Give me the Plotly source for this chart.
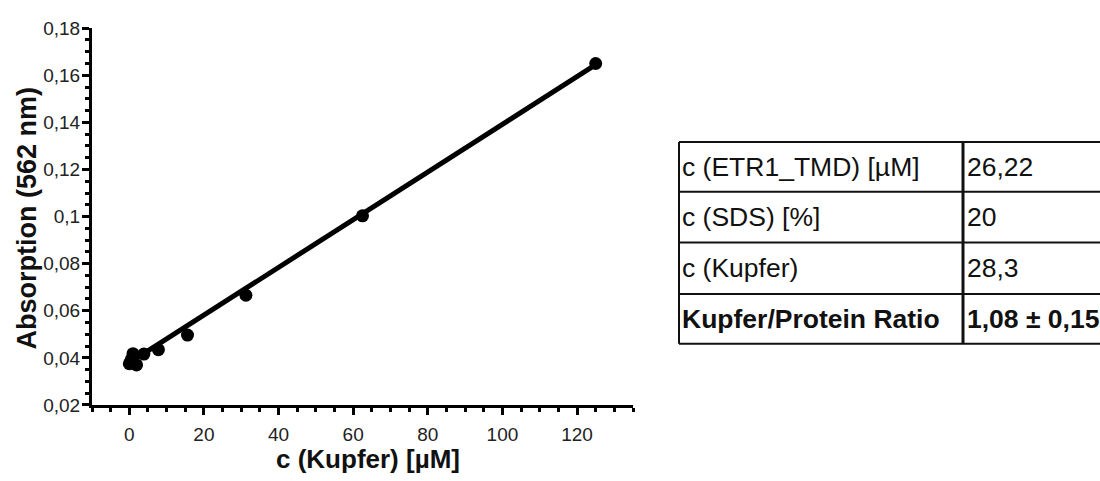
import plotly.graph_objects as go

# ---- data ----
conc_kupfer = [0, 0.49, 0.98, 1.95, 3.9, 7.8, 15.6, 31.25, 62.5, 125]
absorption = [0.0375, 0.0392, 0.0418, 0.0370, 0.0416, 0.0435, 0.0497, 0.0666, 0.1003, 0.1650]
fit_x = [0.98, 125]
fit_y = [0.0389, 0.1645]

x_tickvals = [0, 20, 40, 60, 80, 100, 120]
x_ticktext = ["0", "20", "40", "60", "80", "100", "120"]
y_tickvals = [0.02, 0.04, 0.06, 0.08, 0.10, 0.12, 0.14, 0.16, 0.18]
y_ticktext = ["0,02", "0,04", "0,06", "0,08", "0,1", "0,12", "0,14", "0,16", "0,18"]

table_labels = ["c (ETR1_TMD) [µM]", "c (SDS) [%]", "c (Kupfer)", "<b>Kupfer/Protein Ratio</b>"]
table_values = ["26,22", "20", "28,3", "<b>1,08 ± 0,15</b>"]

W, H = 1100, 481
FONT = "Liberation Sans, Arial, sans-serif"

def px(x):
    return x / W

def py(y):
    return 1 - y / H

fig = go.Figure()
fig.add_trace(go.Scatter(x=fit_x, y=fit_y, mode="lines",
                         line=dict(color="black", width=5), hoverinfo="skip"))
fig.add_trace(go.Scatter(x=conc_kupfer, y=absorption, mode="markers",
                         marker=dict(color="black", size=13, line=dict(width=0))))

axis_common = dict(showline=True, linecolor="black", linewidth=3, ticks="outside",
                   ticklen=7, tickwidth=2.5, tickcolor="black", showgrid=False,
                   zeroline=False, tickfont=dict(family=FONT, size=19, color="#222"))

fig.update_xaxes(range=[-10, 135], domain=[px(92), px(633)], tickmode="array",
                 tickvals=x_tickvals, ticktext=x_ticktext, ticklabelstandoff=3,
                 minor=dict(dtick=5, tick0=0, ticks="outside", ticklen=4, tickwidth=2.5,
                            tickcolor="black", showgrid=False),
                 **axis_common)
fig.update_yaxes(range=[0.02, 0.18], domain=[py(413), py(19)], tickmode="array",
                 tickvals=y_tickvals, ticktext=y_ticktext, ticklabelstandoff=-2,
                 minor=dict(dtick=0.005, tick0=0.02, ticks="outside", ticklen=4, tickwidth=2.5,
                            tickcolor="black", showgrid=False),
                 **axis_common)

annotations = [
    dict(text="<b>c (Kupfer) [µM]</b>", x=px(368), y=py(469), xref="paper", yref="paper",
         showarrow=False, xanchor="center", yanchor="middle",
         font=dict(family=FONT, size=26, color="#111")),
    dict(text="<b>Absorption (562 nm)</b>", x=px(27), y=py(218), xref="paper", yref="paper",
         showarrow=False, xanchor="center", yanchor="middle", textangle=-90,
         font=dict(family=FONT, size=27, color="#111")),
]

row_lines = [138, 190, 243, 297, 349]
shapes = []
for yy in row_lines:
    shapes.append(dict(type="line", xref="paper", yref="paper", x0=px(679), x1=px(1100),
                       y0=py(yy), y1=py(yy), line=dict(color="#111", width=2)))
for xx, wdt in [(679, 2), (963, 3)]:
    shapes.append(dict(type="line", xref="paper", yref="paper", x0=px(xx), x1=px(xx),
                       y0=py(row_lines[0]), y1=py(row_lines[-1]), line=dict(color="#111", width=wdt)))

for i, (lab, val) in enumerate(zip(table_labels, table_values)):
    yc = (row_lines[i] + row_lines[i + 1]) / 2
    annotations.append(dict(text=lab, x=px(680), y=py(yc), xref="paper", yref="paper",
                            showarrow=False, xanchor="left", yanchor="middle",
                            font=dict(family=FONT, size=26.5, color="#111")))
    annotations.append(dict(text=val, x=px(965), y=py(yc), xref="paper", yref="paper",
                            showarrow=False, xanchor="left", yanchor="middle",
                            font=dict(family=FONT, size=26.5, color="#111")))

fig.update_layout(width=W, height=H, margin=dict(l=0, r=0, t=0, b=0),
                  paper_bgcolor="white", plot_bgcolor="white", showlegend=False,
                  annotations=annotations, shapes=shapes)

fig.write_html("out.html")
